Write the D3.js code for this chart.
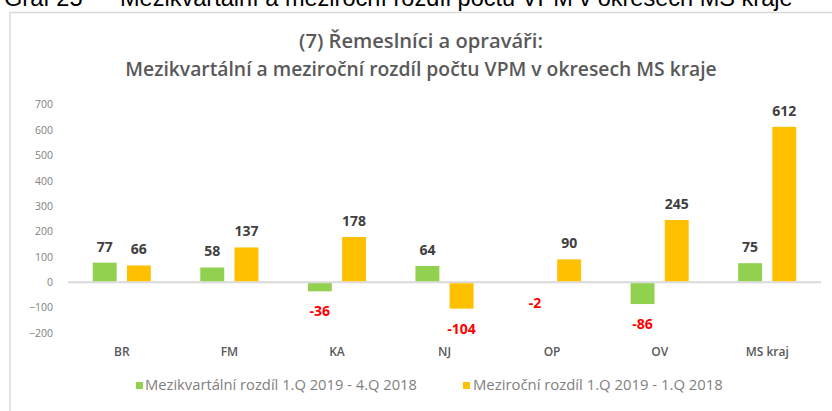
<!DOCTYPE html>
<html><head><meta charset="utf-8">
<script src="https://cdn.jsdelivr.net/npm/d3@7"></script>
<style>html,body{margin:0;padding:0;background:#fff;overflow:hidden}</style>
</head><body>
<script>
const categories = ["BR","FM","KA","NJ","OP","OV","MS kraj"];
const seriesNames = ["Mezikvartální rozdíl 1.Q 2019 - 4.Q 2018","Meziroční rozdíl 1.Q 2019 - 1.Q 2018"];
const qoq = [77,58,-36,64,-2,-86,75];
const yoy = [66,137,178,-104,90,245,612];
const yTicks = [-200,-100,0,100,200,300,400,500,600,700];
const colors = ["#92d050","#ffc000"];
const title1 = "(7) Řemeslníci a opraváři:";
const title2 = "Mezikvartální a meziroční rozdíl počtu VPM v okresech MS kraje";
const header1 = "Graf 25";
const header2 = "Mezikvartální a meziroční rozdíl počtu VPM v okresech MS kraje";

const W=832,H=411;
const svg=d3.select("body").append("svg").attr("width",W).attr("height",H);
const FONT="'Open Sans', sans-serif";

function fit(sel, target){
  const n=sel.node(); const w=n.getComputedTextLength();
  const fs=parseFloat(sel.attr("font-size"));
  sel.attr("font-size", fs*target/w);
  return sel;
}

// header (cut off at top, as in the source page)
const h2=fit(svg.append("text").attr("x",120).attr("y",6).attr("font-family","'Liberation Sans', sans-serif")
  .attr("font-size",20).attr("fill","#000").text(header2),673);
svg.append("text").attr("x",4).attr("y",6).attr("font-family","'Liberation Sans', sans-serif")
  .attr("font-size",h2.attr("font-size")).attr("fill","#000").text(header1);

// chart frame
svg.append("rect").attr("x",10).attr("y",12.5).attr("width",900).attr("height",500)
  .attr("fill","none").attr("stroke","#d9d9d9").attr("stroke-width",1.5);

// titles
fit(svg.append("text").attr("x",421).attr("y",48).attr("text-anchor","middle").attr("font-family",FONT)
  .attr("font-weight",600).attr("font-size",16).attr("fill","#595959").text(title1),244);
fit(svg.append("text").attr("x",421).attr("y",76).attr("text-anchor","middle").attr("font-family",FONT)
  .attr("font-weight",600).attr("font-size",16).attr("fill","#595959").text(title2),592);

const y=d3.scaleLinear().domain([-200,700]).range([333,104.5]);
const x0=d3.scaleBand().domain(categories).range([68,821]).paddingInner(0.46).paddingOuter(0.23);
const x1=d3.scaleBand().domain([0,1]).range([0,x0.bandwidth()]).paddingInner(0.3);

// y axis labels
const yAxis=d3.axisLeft(y).tickValues(yTicks).tickSize(0).tickPadding(0);
const ya=svg.append("g").attr("transform","translate(53,0)").call(yAxis);
ya.select(".domain").remove();
ya.selectAll("text").attr("font-family",FONT).attr("font-size",10.5).attr("fill","#7f7f7f");

// baseline
svg.append("line").attr("x1",68).attr("x2",821).attr("y1",y(0)).attr("y2",y(0))
  .attr("stroke","#d9d9d9").attr("stroke-width",2);

const data=[qoq,yoy];
data.forEach((vals,si)=>{
  const g=svg.append("g");
  g.selectAll("rect").data(vals).join("rect")
    .attr("x",(d,i)=>x0(categories[i])+x1(si))
    .attr("width",x1.bandwidth())
    .attr("y",d=>d>=0?y(d):y(0)+1)
    .attr("height",d=>Math.max(0,Math.abs(y(d)-y(0))-1))
    .attr("fill",colors[si]);
  g.selectAll("text").data(vals).join("text")
    .attr("x",(d,i)=>x0(categories[i])+x1(si)+x1.bandwidth()/2)
    .attr("y",d=>d>=0?y(d)-11:y(d)+25)
    .attr("text-anchor","middle").attr("font-family",FONT).attr("font-weight",700)
    .attr("font-size",14).attr("fill",d=>d<0?"#ff0000":"#404040").text(d=>d);
});

// x axis labels
const xa=svg.append("g").attr("transform","translate(0,352)").call(d3.axisBottom(x0).tickSize(0).tickPadding(0));
xa.select(".domain").remove();
xa.selectAll("text").attr("font-family",FONT).attr("font-weight",600).attr("font-size",12).attr("fill","#595959").attr("dy","0.35em");

// legend
const leg=[{x:136,tx:145,w:272},{x:463,tx:473,w:250}];
seriesNames.forEach((n,i)=>{
  svg.append("rect").attr("x",leg[i].x).attr("y",382).attr("width",7).attr("height",7).attr("fill",colors[i]);
  fit(svg.append("text").attr("x",leg[i].tx).attr("y",389.5).attr("font-family",FONT)
    .attr("font-size",12).attr("fill","#7f7f7f").text(n),leg[i].w);
});
</script>
</body></html>
